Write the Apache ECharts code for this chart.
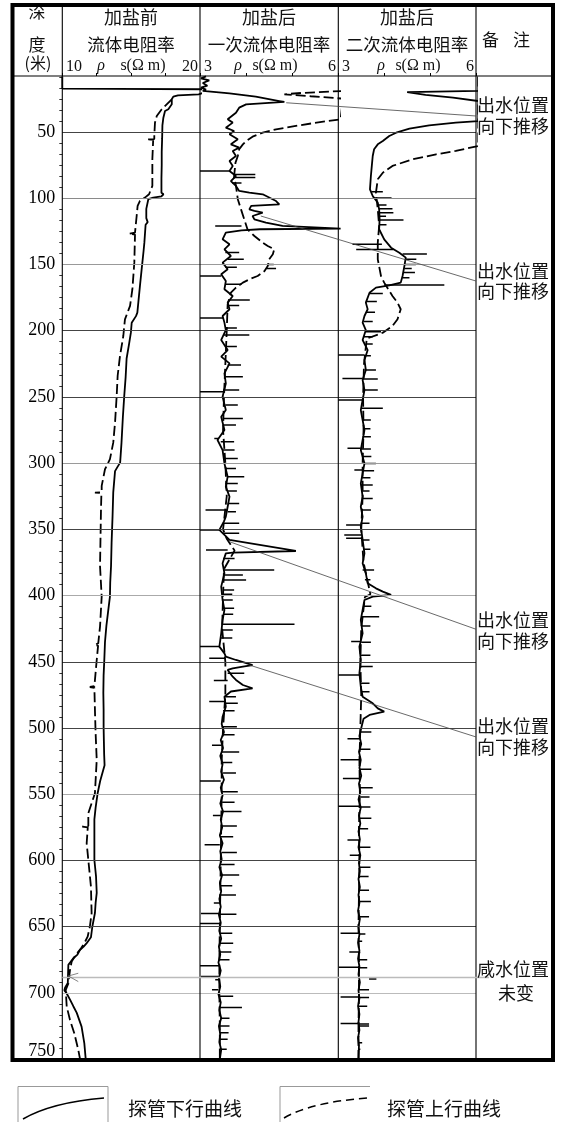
<!DOCTYPE html>
<html><head><meta charset="utf-8">
<script src="https://cdn.jsdelivr.net/npm/echarts@6/dist/echarts.min.js"></script>
<style>html,body{margin:0;padding:0;background:#fff}#c{width:561px;height:1122px}</style>
</head><body><div id="c"></div>
<script>
// ---------- data: [depth (m), resistivity] ----------
const depthTicks = [50,100,150,200,250,300,350,400,450,500,550,600,650,700,750];

const p1Down = [[8,10],[17.2,10],[17.4,13.7],[17.7,20.3],[20.3,20.3],[21.5,19.9],[22.3,18.4],[23.3,18.06],[25.3,17.95],[29,17.95],[32.8,17.7],[34.1,17.46],[39.2,17.34],[45,17.27],[55,17.25],[65,17.22],[75,17.22],[85,17.2],[95.8,17.2],[97,17.35],[98.5,17.2],[99.5,16.6],[100.6,16.25],[102,16.15],[108,16.1],[115,16.1],[118,16.2],[120,16.05],[133.5,15.96],[140,15.9],[153,15.77],[165,15.65],[178.8,15.52],[186.4,15.45],[189,15.35],[194,15.04],[201.5,14.98],[210,14.85],[221,14.67],[235,14.6],[249,14.5],[265,14.4],[284.5,14.3],[299.6,14.2],[303,14.0],[306,13.83],[322,13.7],[340,13.65],[360,13.58],[377.6,13.54],[390,13.48],[400.8,13.46],[410,13.35],[423,13.2],[435,13.1],[448.6,13.05],[460,13.0],[473.6,12.98],[486,13.0],[499,13.0],[510,13.02],[520,13.04],[528,13.07],[540,12.75],[549,12.57],[560,12.42],[569,12.33],[585,12.33],[599.6,12.33],[612,12.45],[624.5,12.5],[632,12.42],[639.6,12.37],[650,12.18],[658,12.08],[662.4,11.77],[665,11.55],[667.5,11.29],[671,11.1],[673.8,10.8],[678.8,10.44],[685,10.42],[692.5,10.4],[696,10.2],[698,10.15],[700,10.3],[705,10.56],[710,10.8],[715,11.05],[725.4,11.4],[738,11.6],[750,11.7]];

const p1Up = [[25.3,17.95],[29.1,17.58],[32.8,17.22],[37.9,16.86],[43,16.73],[53,16.68],[55.3,16.68],[55.6,16.13],[55.9,16.6],[70.6,16.54],[90.7,16.54],[97,16.3],[99.5,16.0],[102,15.64],[105.8,15.47],[113.4,15.4],[126,15.28],[126.8,14.84],[127.4,15.28],[148.6,15.23],[168.7,15.09],[181.3,14.92],[191.4,14.55],[204,14.43],[219,14.19],[234,14.02],[249,13.95],[269.4,13.83],[284.5,13.7],[297,13.46],[304.6,13.1],[317.2,12.86],[322,12.86],[322.3,12.37],[322.8,12.84],[334.8,12.81],[377.6,12.74],[400.8,12.86],[423.4,12.74],[436,12.61],[437.3,12.33],[437.8,12.6],[448.6,12.5],[468.4,12.33],[469,12.0],[469.6,12.33],[486.3,12.37],[504,12.42],[524,12.5],[549.2,12.37],[564.3,11.89],[574,11.89],[574.4,11.45],[575,11.85],[587,11.77],[599.6,11.89],[619.7,12.08],[639.8,12.13],[650,12.0],[657.5,11.84],[662.5,11.6],[666.3,11.36],[671.3,10.97],[676.3,10.68],[682.6,10.56],[692.7,10.44],[697.7,10.25],[710.3,10.32],[720.4,10.56],[730.4,10.87],[743,11.16],[750,11.29]];

const p2Down = [[8,3.13],[9.5,3.02],[11,3.2],[13,3.06],[15,3.16],[16.5,3.02],[18,3.13],[19,3.06],[20.8,3.64],[23.3,4.21],[26.6,4.72],[27.3,4.83],[29.1,4.0],[31.6,3.85],[35.4,3.78],[40.4,3.6],[42.9,3.71],[46.7,3.56],[49.2,3.74],[51.7,3.64],[55.5,3.82],[59.3,3.67],[61.8,3.85],[64.3,3.71],[68.1,3.78],[71.9,3.64],[75.6,3.71],[79.4,3.64],[83.2,3.78],[87,3.67],[90.7,3.78],[94.5,3.85],[95.8,4.07],[97,4.36],[102.1,4.65],[104.6,4.72],[105.8,4.11],[108.4,4.07],[109.6,4.18],[110.9,4.36],[113.4,4.14],[115.9,4.18],[118.4,4.43],[120.9,4.79],[122.9,6.05],[123.4,4.3],[124.3,3.9],[126,3.56],[131,3.49],[134.8,3.64],[138.6,3.53],[143.6,3.67],[148.6,3.49],[153.6,3.6],[157.4,3.46],[162.5,3.56],[168.7,3.53],[173.8,3.71],[178.8,3.6],[183.8,3.64],[188.9,3.49],[193.9,3.53],[199.5,3.56],[207,3.46],[214.6,3.6],[219.6,3.46],[224.7,3.64],[232.2,3.53],[239.8,3.56],[249.8,3.49],[259.9,3.56],[264.9,3.46],[275,3.53],[282.5,3.38],[290.1,3.49],[300.2,3.53],[310.2,3.6],[317.8,3.56],[325.3,3.64],[332.9,3.6],[340.4,3.56],[344,3.52],[350.4,3.42],[358,3.64],[359.3,3.67],[366.3,5.08],[367.5,3.71],[368.1,3.56],[375.6,3.49],[383.2,3.53],[393.2,3.46],[403.3,3.49],[410.8,3.53],[418.4,3.49],[428.5,3.46],[438.5,3.42],[443.6,3.53],[446.1,3.56],[448.6,3.78],[452.4,4.14],[453.6,3.93],[454.9,3.71],[456.1,3.6],[461.2,3.71],[463.7,3.78],[467.5,3.93],[470,4.14],[472.4,3.67],[476.3,3.53],[483.8,3.56],[491.4,3.49],[497,3.47],[503,3.52],[509,3.45],[515,3.5],[521,3.44],[527,3.49],[533,3.46],[539,3.52],[545,3.45],[551,3.49],[557,3.44],[563,3.5],[569,3.45],[575,3.48],[581,3.43],[587,3.49],[593,3.44],[599,3.47],[605,3.42],[611,3.48],[617,3.43],[623,3.46],[629,3.42],[635,3.45],[641,3.41],[647,3.45],[653,3.42],[659,3.46],[665,3.41],[671,3.44],[677,3.4],[683,3.45],[689,3.41],[695,3.44],[701,3.4],[707,3.45],[713,3.42],[719,3.46],[725,3.41],[731,3.44],[737,3.42],[743,3.46],[750,3.43]];

// spikes: [depth, curve value, spike tip]
const p2DownSpikes = [[79.4,3.64,2.99],[82,3.75,4.2],[84.3,3.72,4.2],[88.5,3.7,3.9],[121,3.9,3.33],[141,3.55,3.85],[146,3.6,3.95],[152,3.55,3.8],[158.7,3.46,2.99],[165,3.55,3.9],[176.8,3.65,4.08],[181,3.6,3.85],[190.4,3.5,2.99],[198,3.55,3.8],[203.3,3.5,4.07],[212,3.55,3.8],[225.9,3.6,3.89],[234.7,3.55,3.93],[244.8,3.5,3.85],[246.1,3.5,2.99],[256.1,3.55,3.82],[266.2,3.5,3.93],[271.2,3.5,3.78],[281.3,3.4,3.31],[283.8,3.45,3.74],[290,3.5,3.75],[296.4,3.5,3.82],[304,3.55,3.78],[310.2,3.6,3.96],[315.3,3.55,3.82],[321,3.6,3.8],[330.4,3.6,3.85],[335.4,3.6,3.12],[336.6,3.6,3.78],[345.4,3.52,3.85],[350.4,3.45,2.99],[353,3.5,3.85],[365.5,3.6,3.13],[372,3.5,3.75],[380.6,3.5,4.61],[384.4,3.53,3.93],[388.2,3.5,4.0],[395.7,3.5,3.74],[399,3.48,3.7],[403.3,3.5,3.71],[409.6,3.5,3.74],[414,3.5,3.72],[421.7,3.5,5.05],[426,3.48,3.71],[432,3.45,3.7],[438.5,3.42,2.99],[447.3,3.55,3.2],[458.6,3.6,3.96],[464,3.6,3.3],[476.3,3.53,3.78],[480,3.55,3.2],[481.3,3.55,3.82],[487,3.5,3.75],[499,3.47,3.8],[505,3.5,3.75],[513,3.47,3.26],[518,3.46,3.85],[526,3.48,3.7],[534,3.5,3.78],[540,3.45,3.0],[548,3.46,3.82],[556,3.48,3.75],[563,3.5,3.9],[566,3.45,3.28],[574,3.47,3.8],[582,3.45,3.72],[588,3.43,3.1],[594,3.47,3.8],[603,3.44,3.75],[611,3.46,3.85],[619,3.44,3.7],[626,3.42,3.78],[632,3.44,3.3],[640,3.42,3.02],[640.5,3.42,3.79],[647.5,3.42,3.0],[655,3.42,3.7],[662.5,3.43,3.72],[669,3.42,3.68],[675,3.42,3.64],[679.5,3.42,3.0],[687.5,3.41,3.02],[690,3.41,3.33],[697.5,3.4,3.26],[702.5,3.42,3.72],[711,3.43,3.91],[719,3.44,3.64],[725,3.42,3.64],[730,3.42,3.62],[735,3.42,3.6],[742.5,3.44,3.58]];

const p2Up = [[19,6.1],[20.5,5.2],[21.5,4.83],[23,5.4],[24.8,6.1],[40.4,6.05],[42.9,5.53],[45.4,5.08],[48,4.65],[50.5,4.36],[53.5,4.14],[56.8,4.0],[59.3,3.93],[63,3.85],[68.1,3.82],[73.1,3.77],[83.2,3.74],[90.7,3.78],[100.8,3.82],[108.4,3.89],[115.9,3.96],[123.4,4.03],[128.5,4.18],[133.5,4.36],[136,4.47],[138.6,4.61],[142.3,4.58],[146.1,4.5],[151.1,4.47],[154.9,4.4],[158.7,4.25],[161.2,4.07],[163.7,3.93],[167.5,3.78],[171.3,3.67],[180,3.6],[200,3.58],[225,3.55],[250,3.52],[275,3.5],[300,3.55],[325,3.58],[350,3.5],[357,3.58],[366,3.75],[380,3.52],[400,3.5],[425,3.48],[450,3.55],[475,3.55],[500,3.5],[525,3.47],[550,3.47],[575,3.46],[600,3.45],[625,3.44],[650,3.43],[675,3.42],[700,3.42],[725,3.43],[750,3.43]];
const p2UpSpikes = [[153,4.45,4.65],[150,4.47,4.6]];

const p3Down = [[8,6.05],[19,6.05],[19.8,4.5],[20.8,4.47],[22,4.9],[24,5.5],[26.6,6.05],[41.7,6.05],[42.9,5.56],[44.9,4.98],[47.5,4.55],[50.5,4.26],[53,4.11],[56.8,3.97],[59.3,3.86],[63,3.78],[68.1,3.75],[75.6,3.73],[83.2,3.71],[93.3,3.69],[98.3,3.75],[103.3,3.86],[108.4,3.89],[115.9,3.9],[123.4,3.89],[131,4.0],[137.3,4.15],[141.1,4.33],[144.8,4.47],[151.1,4.44],[158.7,4.4],[163.7,4.36],[165.7,4.11],[167.5,3.82],[171.3,3.68],[178.8,3.6],[183.8,3.64],[188.9,3.57],[193.9,3.53],[199.5,3.6],[207,3.53],[214.6,3.64],[222.1,3.57],[229.7,3.6],[237.2,3.53],[244.8,3.57],[252.3,3.53],[259.9,3.49],[267.4,3.53],[275,3.57],[282.5,3.53],[290.1,3.49],[300.2,3.57],[307.7,3.53],[315.3,3.49],[325.3,3.53],[332.9,3.49],[340.4,3.53],[348,3.49],[358,3.53],[368.1,3.57],[375.6,3.53],[383.2,3.6],[390.7,3.64],[394.5,3.82],[397,3.97],[399.5,4.15],[400.8,3.75],[403.3,3.57],[410.8,3.53],[418.4,3.49],[428.5,3.53],[438.5,3.46],[448.6,3.49],[458.6,3.46],[468.7,3.49],[476.3,3.53],[481.3,3.75],[485.1,3.86],[487.6,4.0],[490.1,3.68],[493,3.55],[500,3.5],[506,3.46],[512,3.5],[518,3.45],[524,3.49],[530,3.46],[536,3.5],[542,3.45],[548,3.48],[554,3.44],[560,3.49],[566,3.45],[572,3.48],[578,3.44],[584,3.47],[590,3.44],[596,3.48],[602,3.45],[608,3.47],[614,3.44],[620,3.47],[626,3.44],[632,3.46],[638,3.43],[644,3.47],[650,3.44],[656,3.46],[662,3.43],[668,3.46],[674,3.43],[680,3.46],[686,3.44],[692,3.47],[698,3.44],[704,3.46],[710,3.43],[716,3.46],[722,3.44],[728,3.46],[734,3.43],[740,3.45],[750,3.44]];

const p3DownSpikes = [[95,3.72,3.97],[99.8,3.75,4.16],[105,3.85,4.05],[108,3.88,4.18],[111,3.88,4.2],[113.5,3.89,4.04],[116.4,3.9,4.42],[120,3.89,4.05],[134.8,3.95,3.31],[138.6,4.2,3.39],[142,4.4,4.93],[146,4.47,4.7],[150,4.44,4.69],[153,4.44,4.6],[156,4.42,4.67],[160,4.4,4.55],[172,3.68,3.97],[178,3.6,3.84],[186,3.62,3.8],[193,3.55,3.75],[200.8,3.6,3.93],[204.5,3.55,3.75],[210,3.6,3.75],[218.4,3.57,3.0],[218.9,3.57,3.71],[229.7,3.6,3.82],[236,3.53,3.09],[236.5,3.53,3.86],[244.8,3.57,3.86],[252.3,3.53,3.0],[258.6,3.5,3.97],[267.4,3.53,3.71],[274,3.55,3.7],[280,3.53,3.71],[288.8,3.49,3.2],[289.3,3.49,3.71],[295,3.52,3.72],[300.2,3.57,3.82],[305.2,3.53,3.35],[305.7,3.53,3.78],[311,3.5,3.7],[316.5,3.49,3.75],[321,3.5,3.68],[326.6,3.53,3.75],[335.4,3.5,3.71],[345.4,3.49,3.68],[346.7,3.49,3.17],[354.2,3.5,3.13],[356.7,3.5,3.17],[358,3.53,3.68],[365,3.55,3.7],[380.6,3.53,3.78],[388,3.58,3.7],[408,3.55,3.72],[415.9,3.5,3.89],[423,3.5,3.7],[434.7,3.5,3.28],[435.2,3.5,3.71],[445,3.48,3.7],[453.6,3.49,3.75],[459.9,3.46,3.0],[466.2,3.49,3.68],[472.5,3.5,3.68],[503,3.48,3.72],[508,3.48,3.2],[516,3.46,3.7],[524,3.48,3.05],[531,3.46,3.72],[538,3.48,3.1],[545,3.46,3.75],[552,3.46,3.68],[559,3.48,3.0],[559.5,3.48,3.7],[568,3.46,3.72],[576,3.45,3.65],[584.6,3.46,3.2],[590,3.45,3.7],[596,3.47,3.25],[605,3.46,3.7],[612,3.45,3.66],[622.5,3.46,3.67],[631,3.45,3.71],[642.5,3.45,3.67],[655,3.45,3.05],[655.5,3.45,3.59],[661,3.44,3.52],[669,3.45,3.24],[669.5,3.45,3.48],[675,3.44,3.63],[680.5,3.45,3.01],[681,3.45,3.63],[689.5,3.67,3.83],[697.5,3.45,3.67],[703,3.45,3.05],[703.5,3.45,3.67],[710,3.44,3.63],[723,3.45,3.05],[723.5,3.45,3.67],[725,3.44,3.67],[737.5,3.44,3.52],[742.5,3.44,3.48]];

const p3Up = [[8,6.05],[60.5,6.05],[64.3,5.56],[66.8,5.13],[70.6,4.62],[75.6,4.18],[80.7,3.97],[85.7,3.86],[95.8,3.82],[108.4,3.86],[120.9,3.89],[133.5,3.86],[146.1,3.86],[158.7,3.93],[163.7,4.0],[173.8,4.18],[178.8,4.29],[183.8,4.36],[191.4,4.29],[196.4,4.18],[201.5,3.97],[206,3.62],[225,3.56],[250,3.54],[275,3.55],[300,3.53],[325,3.53],[350,3.5],[375,3.55],[399,3.7],[401,3.58],[425,3.5],[450,3.48],[475,3.5],[500,3.48],[525,3.46],[550,3.47],[575,3.45],[600,3.46],[625,3.45],[650,3.44],[675,3.45],[700,3.45],[725,3.44],[750,3.44]];
const p3UpSpikes = [[165.5,4.0,5.31]];

// annotation leaders: [value in panel 2, start depth, end depth at remark column]
const leaders = [[4.87,27.9,37.9],[4.32,113.4,162.5],[3.64,359.3,425.4],[4.07,452.4,506.7]];
// remark texts: [depth, text]
const remarks = [[29.6,'出水位置'],[45.5,'向下推移'],[154.9,'出水位置'],[170,'向下推移'],[418.4,'出水位置'],[434.2,'向下推移'],[498.4,'出水位置'],[514.2,'向下推移'],[681.9,'咸水位置']];
const remarkCentered = [[700,'未变']];
const saltDepth = 688.4;

const panelTitles = [['加盐前','流体电阻率'],['加盐后','一次流体电阻率'],['加盐后','二次流体电阻率']];
const panelRanges = [[10,20,2.5],[3,6,1],[3,6,1]];
const legendNames = ['探管下行曲线','探管上行曲线'];

// ---------- layout ----------
const W = 561, H = 1122;
const gx = [62.3, 200, 338.3, 476];
const gTop = 65.8, gH = 993.4;
const lightLines = {100:'#8a8a8a',150:'#999',300:'#9a9a9a',400:'#aaa',550:'#aaa',700:'#bbb'};

const chart = echarts.init(document.getElementById('c'), null, {renderer:'canvas', width:W, height:H});

function pairs(arr){ return arr.map(p => [p[1], p[0]]); }

const grids = [], xAxes = [], yAxes = [], series = [];
for (let i = 0; i < 3; i++) {
  grids.push({left: gx[i], top: gTop, width: gx[i+1]-gx[i], height: gH, containLabel:false});
  xAxes.push({gridIndex:i, type:'value', position:'top', min:panelRanges[i][0], max:panelRanges[i][1], interval:panelRanges[i][2],
    offset:-10.2, axisLine:{show:false}, axisTick:{show:true, length:3, lineStyle:{color:'#000', width:1}},
    axisLabel:{show:false}, splitLine:{show:false}});
  yAxes.push({gridIndex:i, type:'value', inverse:true, min:0, max:750, interval:50,
    axisLine:{show:false}, axisTick:{show:false}, splitLine:{show:false},
    axisLabel: i===0 ? {show:true, margin:7, color:'#000', fontSize:18, fontFamily:'Liberation Serif',
      formatter: v => v === 0 ? '' : (v === 750 ? '{e|750}' : String(v)),
      rich:{e:{fontSize:18, fontFamily:'Liberation Serif', color:'#000', padding:[0,0,16,0]}}} : {show:false},
    minorTick: i===0 ? {show:true, splitNumber:6, length:3, lineStyle:{color:'#333', width:1}} : {show:false}});
}

function lineSeries(i, data, dashed, withGrid){
  const s = {type:'line', xAxisIndex:i, yAxisIndex:i, data:pairs(data), symbol:'none', showSymbol:false,
    clip:true, silent:true, animation:false, z:3,
    lineStyle:{color:'#000', width:1.8, type: dashed ? [10,4] : 'solid'}};
  if (withGrid) {
    s.markLine = {silent:true, symbol:['none','none'], label:{show:false}, animation:false,
      data: depthTicks.filter(d => d < 750).map(d => ({yAxis:d, lineStyle:{color: lightLines[d] || '#444', width:1, type:'solid'}}))};
  }
  return s;
}
function spikeSeries(i, spikes){
  return {type:'custom', xAxisIndex:i, yAxisIndex:i, clip:true, silent:true, animation:false, z:4,
    data: spikes.map(s => [s[1], s[0], s[2]]),
    encode:{x:[0,2], y:1},
    renderItem: (params, api) => {
      const a = api.coord([api.value(0), api.value(1)]);
      const b = api.coord([api.value(2), api.value(1)]);
      return {type:'line', shape:{x1:a[0], y1:a[1], x2:b[0], y2:b[1]}, style:{stroke:'#000', lineWidth:1.5}};
    }};
}
series.push(lineSeries(0, p1Down, false, true), lineSeries(0, p1Up, true, false));
series.push(lineSeries(1, p2Down, false, true), lineSeries(1, p2Up, true, false), spikeSeries(1, p2DownSpikes), spikeSeries(1, p2UpSpikes));
series.push(lineSeries(2, p3Down, false, true), lineSeries(2, p3Up, true, false), spikeSeries(2, p3DownSpikes), spikeSeries(2, p3UpSpikes));

chart.setOption({animation:false, backgroundColor:'#fff', grid:grids, xAxis:xAxes, yAxis:yAxes, series:series});

// ---------- frame, header, annotations, legend ----------
const CJK = '"Noto Sans CJK SC", sans-serif';
const SER = '"Liberation Serif", serif';
function txt(x, y, t, size, family, align, extra){
  return Object.assign({type:'text', x:x, y:y, z:20, silent:true,
    style:Object.assign({text:t, fontSize:size, fontFamily:family, fill:'#111', align:align||'center', verticalAlign:'middle',
      textAlign:align||'center', textVerticalAlign:'middle'}, extra||{})});
}
function ln(x1,y1,x2,y2,color,w,dash){
  return {type:'line', z:15, silent:true, shape:{x1,y1,x2,y2}, style:{stroke:color, lineWidth:w, lineDash:dash||null}};
}
const G = [];
[gx[0], gx[1], gx[2], gx[3]].forEach(x => G.push(ln(x, 5, x, 1060, '#000', 1.1)));
G.push(ln(12, 76, 553, 76, '#000', 1.1));
G.push(txt(37, 12, '深', 17, CJK), txt(37, 45, '度', 17, CJK), txt(38, 63, '(米)', 16, CJK));
const centers = [131, 269, 407];
panelTitles.forEach((t, i) => { G.push(txt(centers[i], 17, t[0], 18, CJK), txt(centers[i], 44, t[1], 17.5, CJK)); });
G.push(txt(66, 67, '10', 16, SER, 'left'), txt(101, 66, 'ρ', 16, SER, 'center', {fontStyle:'italic'}), txt(143, 66, 's(Ω m)', 16, SER), txt(198, 67, '20', 16, SER, 'right'));
G.push(txt(204, 67, '3', 16, SER, 'left'), txt(238, 66, 'ρ', 16, SER, 'center', {fontStyle:'italic'}), txt(275, 66, 's(Ω m)', 16, SER), txt(336, 67, '6', 16, SER, 'right'));
G.push(txt(342, 67, '3', 16, SER, 'left'), txt(381, 66, 'ρ', 16, SER, 'center', {fontStyle:'italic'}), txt(418, 66, 's(Ω m)', 16, SER), txt(474, 67, '6', 16, SER, 'right'));
G.push(txt(482, 40, '备', 17, CJK, 'left'), txt(513, 40, '注', 17, CJK, 'left'));
leaders.forEach(([v, d0, d1]) => {
  const p0 = chart.convertToPixel({gridIndex:1}, [v, d0]);
  const p1 = chart.convertToPixel({gridIndex:2}, [6, d1]);
  G.push(ln(p0[0], p0[1], p1[0], p1[1], '#444', 0.8));
});
const ySalt = chart.convertToPixel({gridIndex:0}, [10, saltDepth])[1];
G.push(ln(gx[0], ySalt, 489, ySalt, '#bbb', 1.5));
const a0 = chart.convertToPixel({gridIndex:0}, [11.16, 685.1]);
const a1 = chart.convertToPixel({gridIndex:0}, [10.44, 687.2]);
const a2 = chart.convertToPixel({gridIndex:0}, [11.16, 691.4]);
G.push({type:'polyline', z:15, silent:true, shape:{points:[a0, a1, a2]}, style:{stroke:'#666', lineWidth:0.8, fill:null}});
remarks.forEach(([d, t]) => {
  const y = chart.convertToPixel({gridIndex:2}, [6, d])[1];
  G.push(txt(477, y, t, 18, CJK, 'left'));
});
remarkCentered.forEach(([d, t]) => {
  const y = chart.convertToPixel({gridIndex:2}, [6, d])[1];
  G.push(txt(516, y, t, 18, CJK, 'center'));
});
G.push({type:'rect', z:30, silent:true, shape:{x:12.5, y:5, width:540.5, height:1055}, style:{fill:null, stroke:'#000', lineWidth:4}});
G.push({type:'polyline', z:15, silent:true, shape:{points:[[18,1130],[18,1086.5],[108,1086.5],[108,1130]]}, style:{stroke:'#999', lineWidth:1, fill:null}});
G.push({type:'bezierCurve', z:15, silent:true, shape:{x1:23, y1:1119, cpx1:42, cpy1:1108, cpx2:68, cpy2:1101, x2:104, y2:1098}, style:{stroke:'#000', lineWidth:1.5, fill:null}});
G.push(txt(128, 1109, legendNames[0], 19, CJK, 'left'));
G.push({type:'polyline', z:15, silent:true, shape:{points:[[280,1130],[280,1086.5],[370,1086.5]]}, style:{stroke:'#999', lineWidth:1, fill:null}});
G.push({type:'bezierCurve', z:15, silent:true, shape:{x1:284, y1:1118, cpx1:303, cpy1:1107, cpx2:330, cpy2:1101, x2:367, y2:1098}, style:{stroke:'#000', lineWidth:1.5, fill:null, lineDash:[8,5]}});
G.push(txt(387, 1109, legendNames[1], 19, CJK, 'left'));

chart.setOption({graphic: G});
</script></body></html>
